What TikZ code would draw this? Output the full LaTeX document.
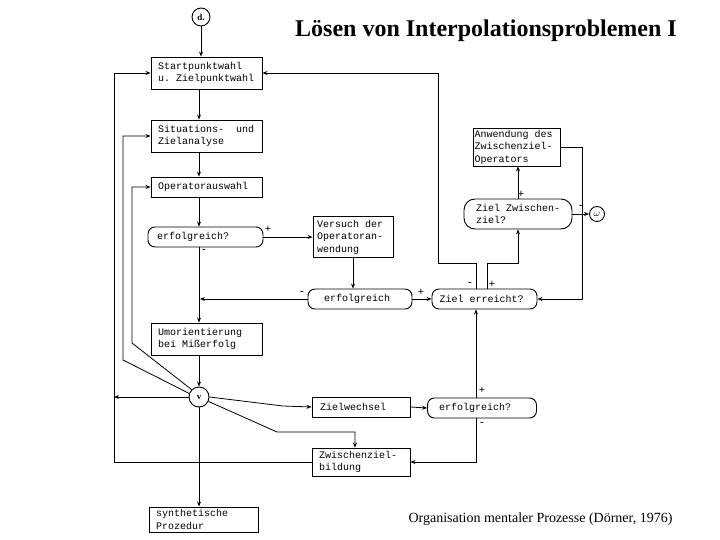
\documentclass[tikz,border=0pt]{standalone}
\usepackage{fontspec}
\setmainfont{Liberation Serif}
\setmonofont{Liberation Mono}
\usetikzlibrary{arrows.meta}
\newcommand\myws{\hspace*{0.6em}}
\begin{document}
\begin{tikzpicture}[x=1pt,y=-1pt,
  box/.style={draw,line width=0.9pt,font=\ttfamily\fontsize{10}{12.5}\selectfont,align=left,inner sep=0pt,text width=#1},
  rbox/.style={box=#1,rounded corners=7pt},
  circ/.style={draw,circle,line width=0.9pt,inner sep=0pt,minimum size=#1,font=\bfseries\fontsize{9}{9}\selectfont},
  ar/.style={-{Stealth[length=5pt,width=4pt]}},
  ln/.style={line width=0.8pt},
  sg/.style={font=\bfseries\fontsize{11}{11}\selectfont,inner sep=0pt}]
\useasboundingbox (0,0) rectangle (720,540);
\node[font=\bfseries\fontsize{24}{24}\selectfont] (title) at (486,31) {Lösen von Interpolationsproblemen I};
\node[font=\fontsize{14}{14}\selectfont,anchor=east] (cap) at (676,519) {Organisation mentaler Prozesse (Dörner, 1976)};

\node[circ=18pt] (d) at (201,17) {d.};
\node[box=97pt,minimum width=111pt,minimum height=32pt] (start) at (206.5,73) {Startpunktwahl\\u.\myws Zielpunktwahl};
\node[box=97pt,minimum width=111pt,minimum height=32pt] (sit) at (206.5,136) {Situations-\myws\myws und\\Zielanalyse};
\node[box=97pt,minimum width=111pt,minimum height=20pt] (opw) at (206.5,187) {Operatorauswahl};
\node[rbox=97pt,minimum width=115pt,minimum height=20pt] (erf1) at (205.5,237) {erfolgreich?};
\node[box=72pt,minimum width=80pt,minimum height=41pt] (vers) at (353,237) {Versuch\myws der\\Operatoran-\\wendung};
\node[rbox=72pt,minimum width=104pt,minimum height=20pt] (erf2) at (360,299) {erfolgreich};
\node[rbox=90pt,minimum width=105pt,minimum height=20pt] (ziel) at (484.5,299) {Ziel\myws erreicht?};
\node[box=84pt,minimum width=87pt,minimum height=38pt] (anw) at (516.5,147) {Anwendung\myws des\\Zwischenziel-\\Operators};
\node[rbox=84pt,rounded corners=11pt,minimum width=108pt,minimum height=30pt] (zz) at (518,214) {Ziel\myws Zwischen-\\ziel?};
\node[circ=15pt,font=\fontsize{10}{10}\selectfont] (om) at (597,214) {$\omega$};
\node[box=97pt,minimum width=111pt,minimum height=32pt] (umo) at (206.5,339) {Umorientierung\\bei\myws Mißerfolg};
\node[circ=20pt] (v) at (199,397) {v};
\node[box=82pt,minimum width=98pt,minimum height=20pt] (zw) at (361,407) {Zielwechsel};
\node[rbox=86pt,minimum width=109pt,minimum height=20pt] (erf3) at (482,408) {erfolgreich?};
\node[box=84pt,minimum width=98pt,minimum height=28pt] (zb) at (361,462) {Zwischenziel-\\bildung};
\node[box=95pt,minimum width=109pt,minimum height=25pt] (syn) at (203.5,519.5) {synthetische\\Prozedur};

\begin{scope}[ln]
\draw[ar] (d) -- (d|-start.north);
\draw[ar] (start.south-|v) -- (sit.north-|v);
\draw[ar] (sit.south-|v) -- (opw.north-|v);
\draw[ar] (opw.south-|v) -- (erf1.north-|v);
\draw[ar] (erf1.south-|v) -- (umo.north-|v);
\draw[ar] (erf2.west) -- ([xshift=1pt]erf2.west-|v);
\draw[ar] (erf1.east) -- (vers.west);
\draw[ar] (vers.south) -- (vers.south|-erf2.north);
\draw[ar] (erf2.east) -- (ziel.west);
\draw[ar] (ziel.north-|476,0) -- (476,263) -- (438,263) -- (438,73) -- (start.east);
\draw[ar] (ziel.north-|487,0) -- (487,263) -- (518,263) -- (zz.south);
\draw[ar] (zz.north) -- (zz.north|-anw.south);
\draw[ar] (zz.east) -- (om.west);
\draw[ar] (anw.east) -- (582,147) -- (582,299) -- (ziel.east);
\draw[ar] (umo.south-|v) -- (v.north);
\draw[ar] (v.south) -- (syn.north-|v);
\draw[ar] (v.west) -- (114,397);
\draw[ar] (zb.west) -- (114,462) -- (114,73) -- (start.west);
\draw[ar] (v.160) -- (123,360) -- (123,136) -- (sit.west);
\draw[ar] (v.135) -- (132,343) -- (132,187) -- (opw.west);
\draw[ar] (v.east) -- (283,406) -- (zw.west);
\draw[ar] (v.-25) -- (277,432) -- (355,432) -- (zb.north-|355,0);
\draw[ar] (zw.east) -- (erf3.west);
\draw[ar] (erf3.north-|476,0) -- (ziel.south-|476,0);
\draw[ar] (erf3.south-|476,0) -- (476,462) -- (zb.east);
\end{scope}

\node[sg] (p1) at (268,229) {+};
\node[sg] (m1) at (204,251) {-};
\node[sg] (m2) at (302,293) {-};
\node[sg] (p2) at (421,292) {+};
\node[sg] (m3) at (470,284) {-};
\node[sg] (p3) at (492,284) {+};
\node[sg] (p4) at (521,194) {+};
\node[sg] (m4) at (581,207) {-};
\node[sg] (p5) at (482,390) {+};
\node[sg] (m5) at (482,424) {-};
\end{tikzpicture}
\end{document}
